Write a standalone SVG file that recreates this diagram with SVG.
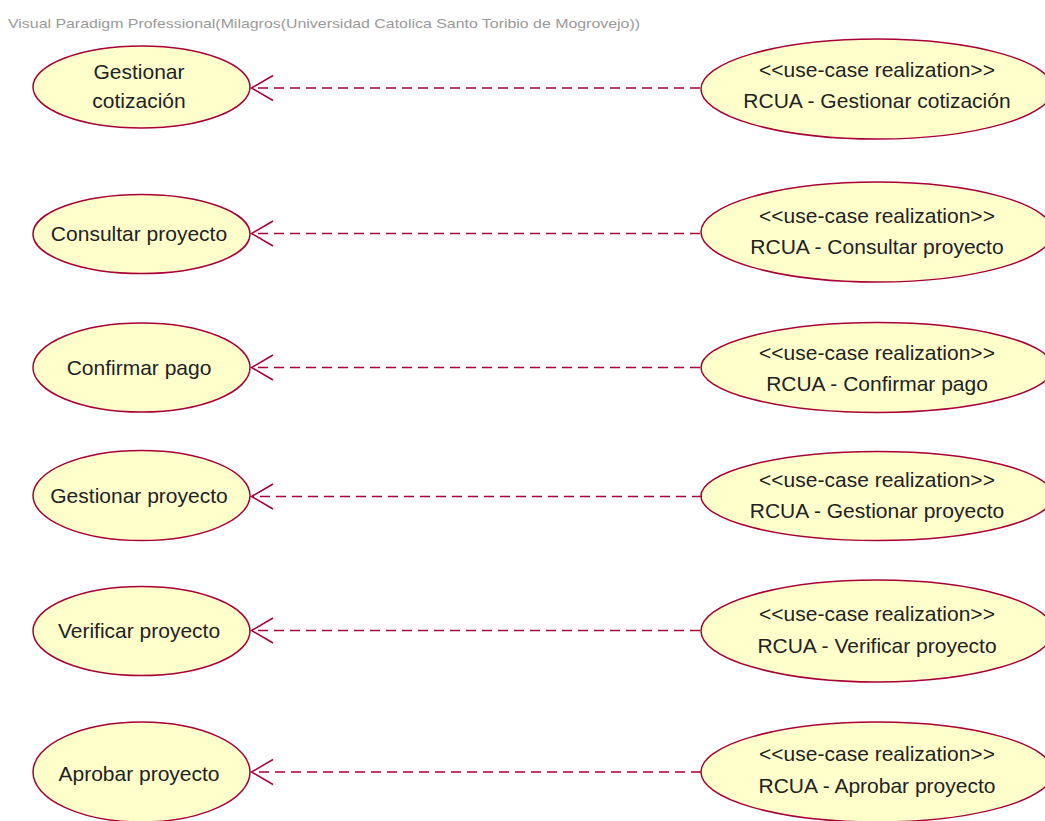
<svg xmlns="http://www.w3.org/2000/svg" width="1045" height="821" viewBox="0 0 1045 821">
<style>
.uc{fill:#FFFFCC;stroke:#A80036;stroke-width:1.5}
.t{font-family:"Liberation Sans",Arial,sans-serif;font-size:21px;fill:#222;text-anchor:middle}
.wm{font-family:"Liberation Sans",Arial,sans-serif;font-size:13px;fill:#9a9a9a}
.dep{stroke:#A80036;stroke-width:1.5;stroke-dasharray:10 6;fill:none}
.hd{stroke:#A80036;stroke-width:1.5;fill:none}
</style>
<rect width="1045" height="821" fill="#ffffff"/>
<text class="wm" x="8" y="28" textLength="632" lengthAdjust="spacingAndGlyphs">Visual Paradigm Professional(Milagros(Universidad Catolica Santo Toribio de Mogrovejo))</text>

<g id="uc-gestionar-cotizacion">
<ellipse class="uc" cx="141.5" cy="87" rx="108.5" ry="41"/>
<text class="t" x="139" y="79">Gestionar</text>
<text class="t" x="139" y="108">cotización</text>
</g>
<g id="uc-consultar-proyecto">
<ellipse class="uc" cx="141.5" cy="234" rx="108.5" ry="39.5"/>
<text class="t" x="139" y="241">Consultar proyecto</text>
</g>
<g id="uc-confirmar-pago">
<ellipse class="uc" cx="141.5" cy="367.5" rx="108.5" ry="44.5"/>
<text class="t" x="139" y="375">Confirmar pago</text>
</g>
<g id="uc-gestionar-proyecto">
<ellipse class="uc" cx="141.5" cy="495.5" rx="108.5" ry="45"/>
<text class="t" x="139" y="503">Gestionar proyecto</text>
</g>
<g id="uc-verificar-proyecto">
<ellipse class="uc" cx="141.5" cy="631" rx="108.5" ry="44.5"/>
<text class="t" x="139" y="638">Verificar proyecto</text>
</g>
<g id="uc-aprobar-proyecto">
<ellipse class="uc" cx="141.5" cy="772" rx="108.5" ry="50"/>
<text class="t" x="139" y="781">Aprobar proyecto</text>
</g>

<g id="rcua-gestionar-cotizacion">
<ellipse class="uc" cx="877" cy="89" rx="176" ry="50"/>
<text class="t" x="877" y="77">&lt;&lt;use-case realization&gt;&gt;</text>
<text class="t" x="877" y="108">RCUA - Gestionar cotización</text>
</g>
<g id="rcua-consultar-proyecto">
<ellipse class="uc" cx="877" cy="232" rx="176" ry="50"/>
<text class="t" x="877" y="223">&lt;&lt;use-case realization&gt;&gt;</text>
<text class="t" x="877" y="254">RCUA - Consultar proyecto</text>
</g>
<g id="rcua-confirmar-pago">
<ellipse class="uc" cx="877" cy="367.5" rx="176" ry="45"/>
<text class="t" x="877" y="360">&lt;&lt;use-case realization&gt;&gt;</text>
<text class="t" x="877" y="391">RCUA - Confirmar pago</text>
</g>
<g id="rcua-gestionar-proyecto">
<ellipse class="uc" cx="877" cy="496" rx="176" ry="44.5"/>
<text class="t" x="877" y="487">&lt;&lt;use-case realization&gt;&gt;</text>
<text class="t" x="877" y="518">RCUA - Gestionar proyecto</text>
</g>
<g id="rcua-verificar-proyecto">
<ellipse class="uc" cx="877" cy="631" rx="176" ry="51"/>
<text class="t" x="877" y="621">&lt;&lt;use-case realization&gt;&gt;</text>
<text class="t" x="877" y="653">RCUA - Verificar proyecto</text>
</g>
<g id="rcua-aprobar-proyecto">
<ellipse class="uc" cx="877" cy="772" rx="176" ry="50"/>
<text class="t" x="877" y="761">&lt;&lt;use-case realization&gt;&gt;</text>
<text class="t" x="877" y="793">RCUA - Aprobar proyecto</text>
</g>

<g id="connectors">
<line class="dep" x1="700" y1="88" x2="252" y2="88"/>
<polyline class="hd" points="273,75.5 251.5,88 273,100.5"/>
<line class="dep" x1="700" y1="233.5" x2="252" y2="233.5"/>
<polyline class="hd" points="273,221 251.5,233.5 273,246"/>
<line class="dep" x1="700" y1="367.5" x2="252" y2="367.5"/>
<polyline class="hd" points="273,355 251.5,367.5 273,380"/>
<line class="dep" x1="702" y1="496.5" x2="252" y2="496.5"/>
<polyline class="hd" points="273,484 251.5,496.5 273,509"/>
<line class="dep" x1="700" y1="630.5" x2="252" y2="630.5"/>
<polyline class="hd" points="273,618 251.5,630.5 273,643"/>
<line class="dep" x1="701" y1="772" x2="252" y2="772"/>
<polyline class="hd" points="273,759.5 251.5,772 273,784.5"/>
</g>
</svg>
